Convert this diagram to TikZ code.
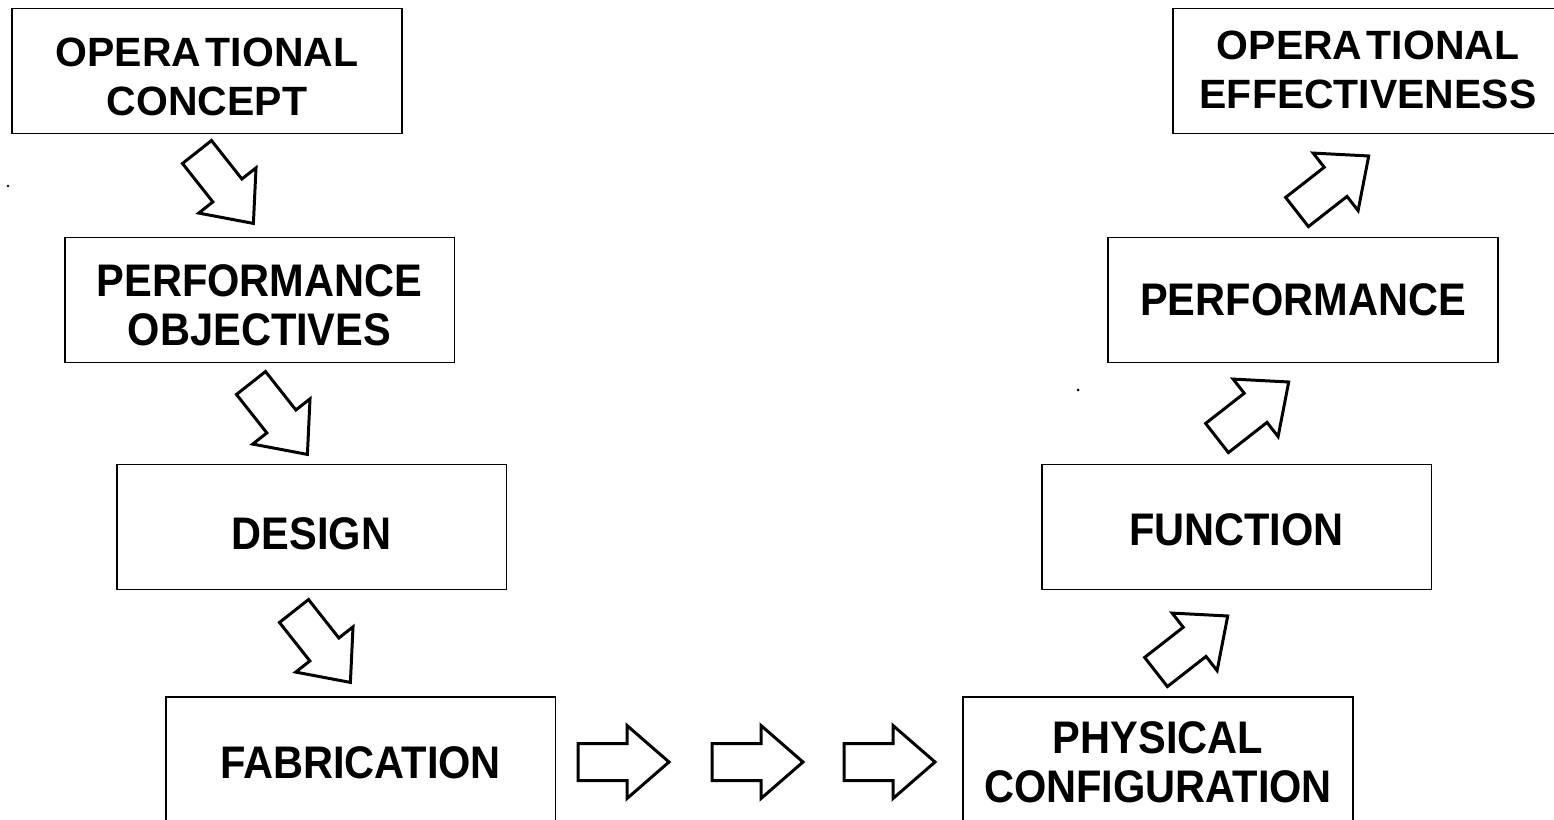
\documentclass[tikz,border=0pt]{standalone}
\usepackage{fontspec}
\usepackage{graphicx}
\usetikzlibrary{calc}
\setmainfont{Liberation Sans}
\newcommand{\bigtxt}[1]{\scalebox{0.91}[1]{#1}}
\tikzset{
  stagebox/.style={draw=black, line width=1.1pt, fill=white, minimum width=7.8cm, minimum height=2.5cm, inner sep=0pt},
  stagetext/.style={align=center, inner sep=0pt},
  bigfont/.style={font=\fontsize{26}{28}\selectfont\bfseries},
  smallfont/.style={font=\fontsize{23.3}{28}\selectfont\bfseries},
  blockarrow/.pic={\draw[line width=1.7pt, line join=miter, fill=white] (0,-18.5) -- (49,-18.5) -- (49,-36.5) -- (91,0) -- (49,36.5) -- (49,18.5) -- (0,18.5) -- cycle;}
}
\begin{document}
\begin{tikzpicture}[x=0.02cm, y=-0.02cm]
\useasboundingbox (0,0) rectangle (1554,819);
\clip (0,0) rectangle (1554,819);
\fill[white] (0,0) rectangle (1554,819);
% boxes
\node[stagebox] (oc) at (207,71) {};
\node[stagebox] (po) at (259.5,300) {};
\node[stagebox] (des) at (311.5,527) {};
\node[stagebox] (fab) at (360.5,759.5) {};
\node[stagebox] (pc) at (1158,759.5) {};
\node[stagebox] (fun) at (1236.5,527) {};
\node[stagebox] (perf) at (1303,300) {};
\node[stagebox] (oe) at (1368,71) {};
% texts
\node[stagetext, smallfont] (oct) at ($(oc)+(0,6)$) {OPERA\kern2.5pt TIONAL\\CONCEPT};
\node[stagetext, bigfont] (pot) at ($(po)+(0,5)$) {\bigtxt{PERFORMANCE}\\\bigtxt{OBJECTIVES}};
\node[stagetext, bigfont] (dest) at ($(des)+(0,7)$) {\bigtxt{DESIGN}};
\node[stagetext, bigfont] (fabt) at ($(fab)+(0,3)$) {\bigtxt{FABRICATION}};
\node[stagetext, bigfont] (pct) at ($(pc)+(0,3)$) {\bigtxt{PHYSICAL}\\\bigtxt{CONFIGURATION}};
\node[stagetext, bigfont] (funt) at ($(fun)+(0,3)$) {\bigtxt{FUNCTION}};
\node[stagetext, bigfont] (perft) at (perf) {\bigtxt{PERFORMANCE}};
\node[stagetext, smallfont] (oet) at ($(oe)+(0,-1)$) {OPERA\kern2.5pt TIONAL\\EFFECTIVENESS};
% block arrows
\pic[rotate=-51.7] at (197,152) {blockarrow};
\pic[rotate=-51.7] at (251,383) {blockarrow};
\pic[rotate=-51.7] at (294,611) {blockarrow};
\pic at (578,762) {blockarrow};
\pic at (712,762) {blockarrow};
\pic at (844,762) {blockarrow};
\pic[rotate=38] at (1156,672) {blockarrow};
\pic[rotate=38] at (1217,438) {blockarrow};
\pic[rotate=38] at (1297,212) {blockarrow};
% specks
\fill (8,186) circle (1.3);
\fill (1078,390) circle (1.5);
\end{tikzpicture}
\end{document}
